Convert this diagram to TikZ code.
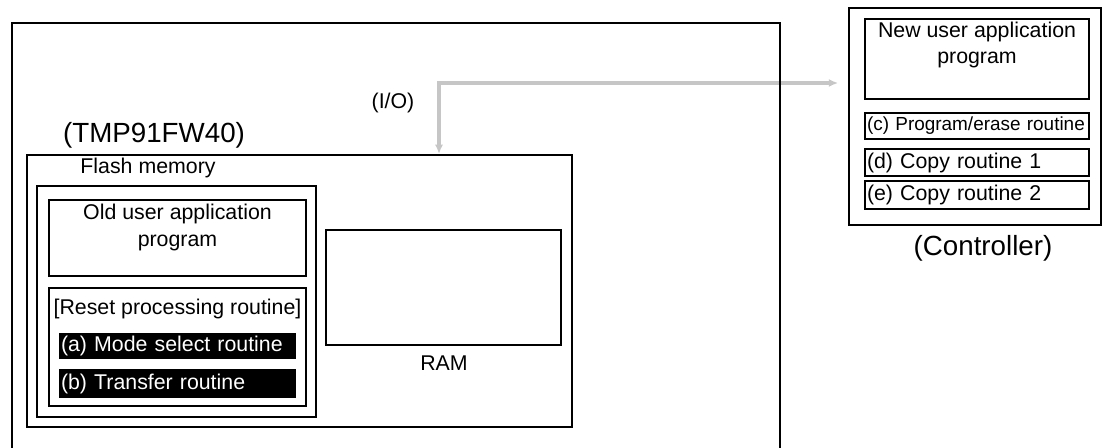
\documentclass[tikz,border=0pt]{standalone}
\usepackage{fontspec}
\setmainfont{Liberation Sans}
\usepackage{tikz}
\usetikzlibrary{arrows.meta,positioning,calc}
\pgfdeclarelayer{bg}
\pgfsetlayers{bg,main}

\begin{document}
\begin{tikzpicture}[x=0.75pt,y=-0.75pt,
    every node/.style={font=\fontsize{16}{19}\selectfont},
    box/.style={draw,line width=1.4pt,inner sep=0pt},
    thick box/.style={draw,line width=2.2pt,inner sep=0pt},
    black box/.style={fill=black,text=white,inner xsep=1.5pt,inner ysep=0pt,align=left},
    plain box/.style={draw,line width=1.4pt,inner xsep=1.5pt,inner ysep=0pt,align=left},
    big/.style={font=\fontsize{20.8}{24}\selectfont},
    ioline/.style={draw=gray!45,line width=2.6pt,{Latex[length=7pt,width=6pt]}-{Latex[length=7pt,width=6pt]}}]

    \useasboundingbox (0,0) rectangle (1112,448);
    \clip (0,0) rectangle (1112,448);

    % target board (cut at the bottom)
    \node [thick box,minimum width=576pt,minimum height=336pt] (board) at (396,247) {};

    % microcontroller
    \node [box,minimum width=408.75pt,minimum height=204pt] (chip) at (299.5,291) {};
    \node [big] (chipname) at (154,135) {(TMP91FW40)};
    \node [thick box,minimum width=209.25pt,minimum height=173.25pt] (flash) at (176.5,301.5) {};
    \node (flashname) at (148,168) {Flash memory};
    \node [box,minimum width=192.75pt,minimum height=57pt] (oldapp) at (177.5,238) {};
    \node [align=center,anchor=north,inner sep=3.5pt,font=\fontsize{16}{20}\selectfont] (oldtext) at (oldapp.north) {Old user application\\program};
    \node [box,minimum width=192.75pt,minimum height=88.5pt] (reset) at (177.5,347) {};
    \node (resettext) at (177.5,309) {[Reset processing routine]};
    \node [black box,text width=174.75pt,minimum height=19.5pt] (modesel) at (177.5,346) {(a) Mode select routine};
    \node [black box,text width=174.75pt,minimum height=21.75pt] (transfer) at (177.5,383.5) {(b) Transfer routine};
    \node [box,minimum width=176.25pt,minimum height=86.25pt] (ram) at (443.5,287.5) {};
    \node (ramname) at (444,363) {RAM};

    % controller
    \node [thick box,minimum width=189pt,minimum height=162.75pt] (ctrl) at (975,116.5) {};
    \node [big] (ctrlname) at (983,248) {(Controller)};
    \node [box,minimum width=168pt,minimum height=60pt] (newapp) at (977,59) {};
    \node [align=center,anchor=north,inner sep=3pt,font=\fontsize{16}{19.5}\selectfont] (newtext) at (newapp.north) {New user application\\program};
    \node [plain box,text width=165pt,minimum height=19.5pt,font=\fontsize{14.2}{17}\selectfont] (progerase) at (977,126) {(c) Program/erase routine};
    \node [plain box,text width=165pt,minimum height=20.25pt] (copyone) at (977,162.5) {(d) Copy routine 1};
    \node [plain box,text width=165pt,minimum height=21pt] (copytwo) at (977,195) {(e) Copy routine 2};

    % I/O link
    \coordinate (bend) at (439,83);
    \node (ioname) at (393,103) {(I/O)};
    \begin{pgfonlayer}{bg}
        \draw [ioline] ($(bend -| ctrl.west)+(-7pt,0)$) -- (bend) -- (bend |- chip.north);
    \end{pgfonlayer}
\end{tikzpicture}
\end{document}
